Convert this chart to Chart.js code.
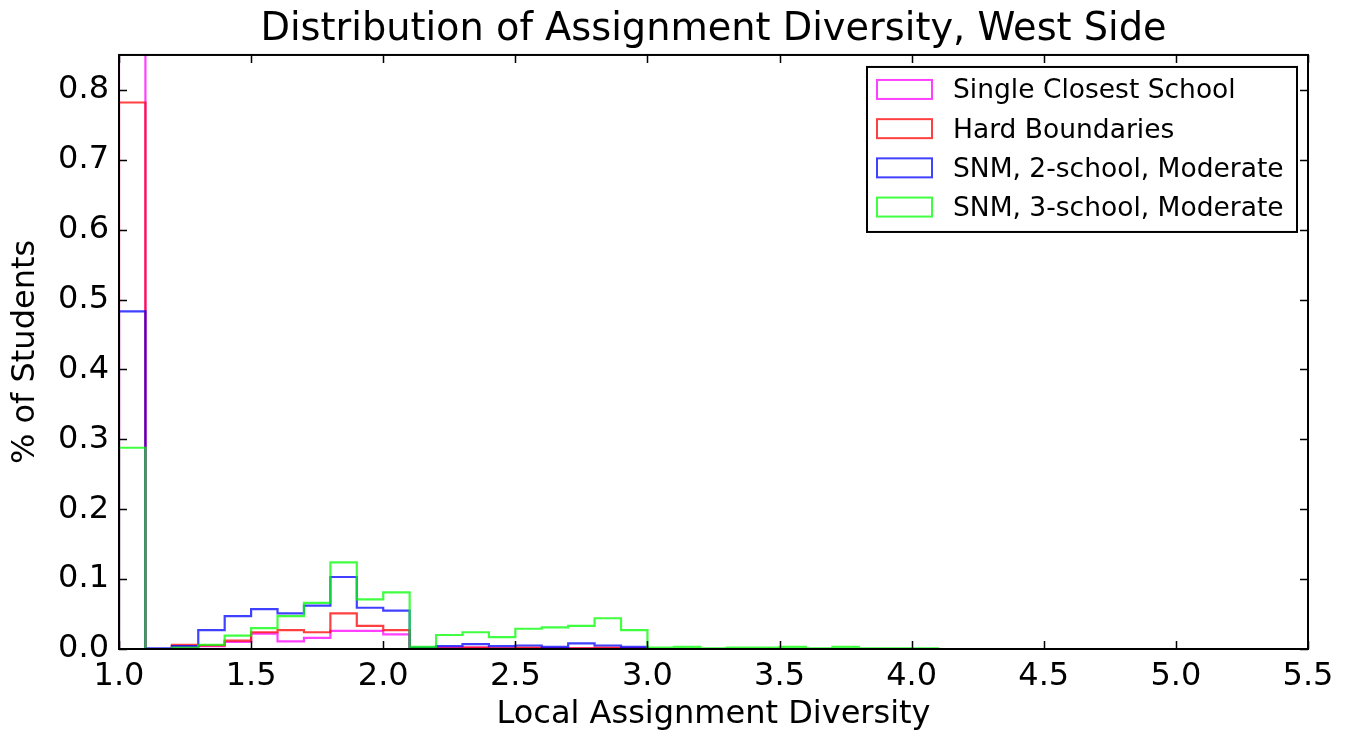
<!DOCTYPE html>
<html>
<head>
<meta charset="utf-8">
<title>Distribution of Assignment Diversity, West Side</title>
<script src="https://cdn.jsdelivr.net/npm/chart.js@4.4.1/dist/chart.umd.min.js"></script>
<style>
  html, body { margin: 0; padding: 0; background: #fff; }
  #wrap { width: 1348px; height: 736px; }
</style>
</head>
<body>
<div id="wrap"><canvas id="chartHist" width="1348" height="736"></canvas></div>
<script>
// histogram bin edges (0.1 wide), values are the share of students per bin
const BIN_EDGES = [1.0, 1.1, 1.2, 1.3, 1.4, 1.5, 1.6, 1.7, 1.8, 1.9, 2.0, 2.1, 2.2, 2.3, 2.4, 2.5,
  2.6, 2.7, 2.8, 2.9, 3.0, 3.1, 3.2, 3.3, 3.4, 3.5, 3.6, 3.7, 3.8, 3.9, 4.0, 4.1];

const SINGLE_CLOSEST = [0.86, 0, 0.003, 0.004, 0.010, 0.022, 0.011, 0.016, 0.026, 0.026, 0.021,
  0.001, 0.002, 0.002, 0.001, 0.001, 0.001, 0.001, 0.001, 0.001, 0, 0, 0, 0, 0, 0, 0, 0, 0, 0, 0];
const HARD_BOUNDARIES = [0.782, 0, 0.006, 0.005, 0.012, 0.024, 0.027, 0.024, 0.051, 0.033, 0.027,
  0.001, 0.001, 0.002, 0.001, 0.002, 0.001, 0.001, 0.002, 0.001, 0, 0, 0, 0, 0, 0, 0, 0, 0, 0, 0];
const SNM_2_SCHOOL = [0.483, 0.001, 0.004, 0.027, 0.047, 0.057, 0.051, 0.062, 0.103, 0.059, 0.055,
  0.002, 0.004, 0.007, 0.004, 0.005, 0.003, 0.008, 0.005, 0.003, 0, 0, 0, 0, 0, 0, 0, 0, 0, 0, 0];
const SNM_3_SCHOOL = [0.288, 0, 0.002, 0.006, 0.019, 0.030, 0.047, 0.066, 0.124, 0.071, 0.081,
  0.003, 0.020, 0.024, 0.017, 0.029, 0.031, 0.033, 0.044, 0.027, 0.002, 0.003, 0.001, 0.002,
  0.002, 0.003, 0.001, 0.003, 0.001, 0.001, 0.001];

const SERIES_LABELS = ['Single Closest School', 'Hard Boundaries', 'SNM, 2-school, Moderate', 'SNM, 3-school, Moderate'];
const SERIES_COLORS = ['rgba(255,0,255,0.75)', 'rgba(255,0,0,0.75)', 'rgba(0,0,255,0.75)', 'rgba(0,255,0,0.75)'];

const X_TICKS = [1.0, 1.5, 2.0, 2.5, 3.0, 3.5, 4.0, 4.5, 5.0, 5.5];
const Y_TICKS = [0.0, 0.1, 0.2, 0.3, 0.4, 0.5, 0.6, 0.7, 0.8];

const FONT = "'DejaVu Sans', sans-serif";

// outline of a step histogram: up from the baseline, across each bin, back down
function stepPoints(values) {
  const pts = [{ x: BIN_EDGES[0], y: 0 }];
  values.forEach((v, i) => pts.push({ x: BIN_EDGES[i], y: v }));
  const last = BIN_EDGES[BIN_EDGES.length - 1];
  pts.push({ x: last, y: values[values.length - 1] });
  pts.push({ x: last, y: 0 });
  return pts;
}

// matplotlib-like frame, inward ticks and boxed legend
const frameAndLegend = {
  id: 'frameAndLegend',
  afterDatasetsDraw(chart) {
    const { ctx, chartArea: a, scales: { x, y } } = chart;
    ctx.save();
    ctx.strokeStyle = '#000';
    ctx.lineWidth = 1.5;
    ctx.beginPath();
    X_TICKS.forEach(v => {
      const px = Math.round(x.getPixelForValue(v)) + 0.5;
      ctx.moveTo(px, a.bottom); ctx.lineTo(px, a.bottom - 8);
      ctx.moveTo(px, a.top); ctx.lineTo(px, a.top + 8);
    });
    Y_TICKS.forEach(v => {
      const py = Math.round(y.getPixelForValue(v)) + 0.5;
      ctx.moveTo(a.left, py); ctx.lineTo(a.left + 8, py);
      ctx.moveTo(a.right, py); ctx.lineTo(a.right - 8, py);
    });
    ctx.stroke();
    ctx.lineWidth = 2;
    ctx.strokeRect(a.left, a.top, a.right - a.left, a.bottom - a.top);

    const boxW = 430, boxH = 165;
    const bx = a.right - 11 - boxW, by = a.top + 12;
    ctx.fillStyle = '#fff';
    ctx.fillRect(bx, by, boxW, boxH);
    ctx.strokeRect(bx, by, boxW, boxH);
    ctx.font = `26.5px ${FONT}`;
    ctx.textBaseline = 'middle';
    ctx.textAlign = 'left';
    chart.data.datasets.forEach((ds, i) => {
      const cy = by + 22.5 + i * 39.2;
      ctx.strokeStyle = ds.borderColor;
      ctx.lineWidth = 2;
      ctx.strokeRect(bx + 10, cy - 9.5, 55, 19);
      ctx.fillStyle = '#000';
      ctx.fillText(ds.label, bx + 86, cy + 2);
    });
    ctx.restore();
  }
};

const datasets = [SINGLE_CLOSEST, HARD_BOUNDARIES, SNM_2_SCHOOL, SNM_3_SCHOOL].map((vals, i) => ({
  label: SERIES_LABELS[i],
  data: stepPoints(vals),
  borderColor: SERIES_COLORS[i],
  borderWidth: 2.2,
  stepped: true,
  fill: false,
  pointRadius: 0,
  order: 3 - i
}));

new Chart(document.getElementById('chartHist'), {
  type: 'line',
  data: { datasets },
  options: {
    responsive: false,
    animation: false,
    layout: { padding: { left: 0, right: 40, top: 0, bottom: 0 } },
    plugins: {
      legend: { display: false },
      tooltip: { enabled: false },
      title: {
        display: true,
        fullSize: false,
        text: 'Distribution of Assignment Diversity, West Side',
        color: '#000',
        font: { family: FONT, size: 38.3, weight: 'normal', lineHeight: 1.2 },
        padding: { top: 7.5, bottom: 1.5 }
      }
    },
    scales: {
      x: {
        type: 'linear',
        min: 1.0,
        max: 5.5,
        afterBuildTicks: s => { s.ticks = X_TICKS.map(v => ({ value: v })); },
        afterFit: s => { s.height = 87; },
        grid: { display: false, drawTicks: false },
        border: { display: false },
        ticks: {
          color: '#000',
          padding: 8,
          maxRotation: 0,
          autoSkip: false,
          font: { family: FONT, size: 32 },
          callback: v => v.toFixed(1)
        },
        title: {
          display: true,
          text: 'Local Assignment Diversity',
          color: '#000',
          font: { family: FONT, size: 32 },
          padding: { top: 0, bottom: 2 }
        }
      },
      y: {
        min: 0,
        max: 0.85,
        afterBuildTicks: s => { s.ticks = Y_TICKS.map(v => ({ value: v })); },
        afterFit: s => { s.width = 119; },
        grid: { display: false, drawTicks: false },
        border: { display: false },
        ticks: {
          color: '#000',
          padding: 10,
          autoSkip: false,
          font: { family: FONT, size: 32 },
          callback: v => v.toFixed(1)
        },
        title: {
          display: true,
          text: '% of Students',
          color: '#000',
          font: { family: FONT, size: 32 },
          padding: { top: 6, bottom: 0 }
        }
      }
    }
  },
  plugins: [frameAndLegend]
});
</script>
</body>
</html>
